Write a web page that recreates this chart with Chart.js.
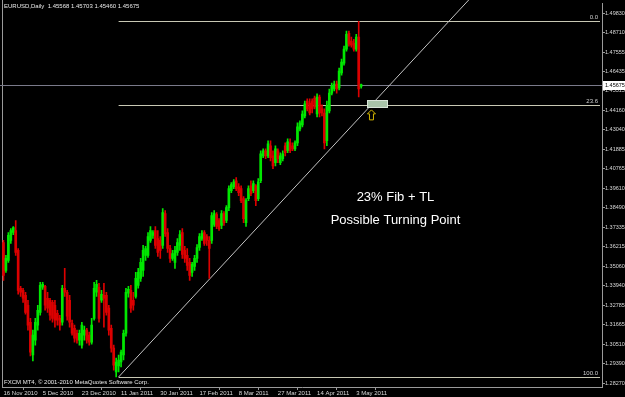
<!DOCTYPE html>
<html>
<head>
<meta charset="utf-8">
<script src="https://cdn.jsdelivr.net/npm/chart.js@4.4.1/dist/chart.umd.min.js"></script>
<style>
  html, body { margin: 0; padding: 0; background: #000; }
  canvas { display: block; }
</style>
</head>
<body>
<canvas id="eurusd" width="625" height="397"></canvas>
<script>
// EURUSD daily bars
const opens = [
  1.3647, 1.3484, 1.3543, 1.3659, 1.3705, 1.3717, 1.3601, 1.3380, 1.3368, 1.3339,
  1.3281, 1.3182, 1.2991, 1.3078, 1.3165, 1.3240, 1.3386, 1.3391, 1.3322, 1.3310,
  1.3298, 1.3281, 1.3234, 1.3205, 1.3182, 1.3380, 1.3357, 1.3310, 1.3176, 1.3147,
  1.3118, 1.3078, 1.3049, 1.3107, 1.3136, 1.3107, 1.3066, 1.3205, 1.3357, 1.3386,
  1.3310, 1.3339, 1.3339, 1.3264, 1.3147, 1.3031, 1.2892, 1.2927, 1.2950, 1.2991,
  1.3118, 1.3351, 1.3368, 1.3310, 1.3333, 1.3397, 1.3438, 1.3484, 1.3572, 1.3572,
  1.3659, 1.3688, 1.3717, 1.3670, 1.3659, 1.3630, 1.3816, 1.3705, 1.3612, 1.3554,
  1.3531, 1.3589, 1.3630, 1.3705, 1.3601, 1.3572, 1.3531, 1.3473, 1.3508, 1.3554,
  1.3618, 1.3670, 1.3705, 1.3682, 1.3659, 1.3659, 1.3752, 1.3810, 1.3775, 1.3746,
  1.3816, 1.3775, 1.3850, 1.3949, 1.3972, 1.4007, 1.3972, 1.3961, 1.3903, 1.3763,
  1.3903, 1.3978, 1.3949, 1.3978, 1.3903, 1.4007, 1.4152, 1.4182, 1.4152, 1.4211,
  1.4152, 1.4112, 1.4182, 1.4112, 1.4135, 1.4211, 1.4182, 1.4228, 1.4211, 1.4193,
  1.4228, 1.4309, 1.4333, 1.4385, 1.4472, 1.4460, 1.4472, 1.4489, 1.4396, 1.4495,
  1.4426, 1.4402, 1.4240, 1.4414, 1.4518, 1.4542, 1.4571, 1.4548, 1.4635, 1.4693,
  1.4774, 1.4867, 1.4821, 1.4809, 1.4774, 1.4844, 1.45568
];
const highs = [
  1.3659, 1.3572, 1.3705, 1.3728, 1.3740, 1.3775, 1.3612, 1.3391, 1.3380, 1.3357,
  1.3310, 1.3205, 1.3136, 1.3205, 1.3281, 1.3415, 1.3415, 1.3397, 1.3357, 1.3322,
  1.3310, 1.3310, 1.3252, 1.3223, 1.3397, 1.3496, 1.3368, 1.3339, 1.3194, 1.3165,
  1.3136, 1.3136, 1.3182, 1.3159, 1.3147, 1.3124, 1.3205, 1.3415, 1.3426, 1.3409,
  1.3368, 1.3409, 1.3357, 1.3281, 1.3165, 1.3049, 1.2973, 1.2991, 1.3020, 1.3136,
  1.3380, 1.3391, 1.3397, 1.3357, 1.3473, 1.3496, 1.3554, 1.3630, 1.3624, 1.3705,
  1.3740, 1.3717, 1.3740, 1.3717, 1.3682, 1.3845, 1.3833, 1.3728, 1.3630, 1.3601,
  1.3624, 1.3670, 1.3717, 1.3728, 1.3624, 1.3612, 1.3554, 1.3531, 1.3572, 1.3635,
  1.3699, 1.3717, 1.3717, 1.3693, 1.3682, 1.3821, 1.3833, 1.3821, 1.3786, 1.3833,
  1.3827, 1.3862, 1.3978, 1.3996, 1.4013, 1.4025, 1.3990, 1.3978, 1.3914, 1.3903,
  1.3978, 1.4007, 1.4007, 1.3984, 1.4019, 1.4182, 1.4193, 1.4193, 1.4240, 1.4240,
  1.4182, 1.4211, 1.4193, 1.4170, 1.4182, 1.4228, 1.4251, 1.4251, 1.4228, 1.4240,
  1.4344, 1.4356, 1.4414, 1.4472, 1.4484, 1.4484, 1.4484, 1.4501, 1.4513, 1.4507,
  1.4449, 1.4426, 1.4472, 1.4542, 1.4577, 1.4588, 1.4588, 1.4664, 1.4716, 1.4792,
  1.4879, 1.4879, 1.4844, 1.4832, 1.4861, 1.4937, 1.45703
];
const lows = [
  1.3426, 1.3473, 1.3531, 1.3641, 1.3693, 1.3572, 1.3345, 1.3333, 1.3298, 1.3229,
  1.3136, 1.2985, 1.2956, 1.3049, 1.3136, 1.3223, 1.3374, 1.3252, 1.3240, 1.3194,
  1.3182, 1.3153, 1.3165, 1.3136, 1.3165, 1.3333, 1.3194, 1.3153, 1.3107, 1.3066,
  1.3060, 1.3049, 1.3031, 1.3078, 1.3060, 1.3049, 1.3054, 1.3194, 1.3333, 1.3182,
  1.3298, 1.3153, 1.3223, 1.3107, 1.3008, 1.2903, 1.2863, 1.2892, 1.2921, 1.2962,
  1.3101, 1.3328, 1.3240, 1.3252, 1.3322, 1.3380, 1.3420, 1.3449, 1.3543, 1.3560,
  1.3647, 1.3670, 1.3612, 1.3566, 1.3554, 1.3612, 1.3682, 1.3589, 1.3531, 1.3543,
  1.3496, 1.3572, 1.3601, 1.3554, 1.3531, 1.3484, 1.3426, 1.3449, 1.3484, 1.3531,
  1.3601, 1.3659, 1.3630, 1.3630, 1.3438, 1.3641, 1.3740, 1.3728, 1.3717, 1.3728,
  1.3746, 1.3763, 1.3833, 1.3938, 1.3961, 1.3949, 1.3920, 1.3879, 1.3763, 1.3740,
  1.3891, 1.3920, 1.3938, 1.3862, 1.3891, 1.3996, 1.4141, 1.4135, 1.4141, 1.4123,
  1.4077, 1.4094, 1.4112, 1.4100, 1.4123, 1.4152, 1.4170, 1.4170, 1.4182, 1.4182,
  1.4211, 1.4298, 1.4321, 1.4373, 1.4414, 1.4391, 1.4402, 1.4426, 1.4379, 1.4379,
  1.4385, 1.4193, 1.4211, 1.4402, 1.4507, 1.4530, 1.4518, 1.4536, 1.4623, 1.4681,
  1.4763, 1.4792, 1.4786, 1.4763, 1.4763, 1.4495, 1.45460
];
const closes = [
  1.3455, 1.3554, 1.3688, 1.3717, 1.3734, 1.3589, 1.3368, 1.3357, 1.3322, 1.3240,
  1.3165, 1.3008, 1.3107, 1.3182, 1.3252, 1.3397, 1.3403, 1.3281, 1.3264, 1.3223,
  1.3205, 1.3194, 1.3194, 1.3165, 1.3380, 1.3357, 1.3217, 1.3182, 1.3118, 1.3089,
  1.3078, 1.3118, 1.3165, 1.3136, 1.3078, 1.3066, 1.3165, 1.3380, 1.3403, 1.3205,
  1.3345, 1.3322, 1.3240, 1.3136, 1.3031, 1.2932, 1.2950, 1.2962, 1.3008, 1.3118,
  1.3357, 1.3374, 1.3264, 1.3281, 1.3438, 1.3473, 1.3531, 1.3601, 1.3612, 1.3682,
  1.3717, 1.3705, 1.3630, 1.3589, 1.3601, 1.3821, 1.3699, 1.3612, 1.3554, 1.3583,
  1.3601, 1.3647, 1.3693, 1.3577, 1.3554, 1.3513, 1.3455, 1.3519, 1.3554, 1.3618,
  1.3682, 1.3699, 1.3641, 1.3659, 1.3612, 1.3804, 1.3816, 1.3740, 1.3728, 1.3816,
  1.3763, 1.3850, 1.3961, 1.3984, 1.4001, 1.3961, 1.3938, 1.3891, 1.3786, 1.3891,
  1.3961, 1.3932, 1.3990, 1.3891, 1.4001, 1.4164, 1.4182, 1.4152, 1.4222, 1.4141,
  1.4094, 1.4193, 1.4135, 1.4152, 1.4164, 1.4170, 1.4234, 1.4182, 1.4193, 1.4228,
  1.4321, 1.4344, 1.4396, 1.4455, 1.4426, 1.4402, 1.4426, 1.4437, 1.4495, 1.4402,
  1.4402, 1.4228, 1.4443, 1.4518, 1.4559, 1.4571, 1.4542, 1.4646, 1.4699, 1.4774,
  1.4861, 1.4803, 1.4797, 1.4774, 1.4844, 1.4542, 1.45675
];

const dateLabels = ['16 Nov 2010', '5 Dec 2010', '23 Dec 2010', '11 Jan 2011', '30 Jan 2011',
  '17 Feb 2011', '8 Mar 2011', '27 Mar 2011', '14 Apr 2011', '3 May 2011'];
const labelEvery = 16; // bars between date labels

const priceTicks = [1.49830, 1.48710, 1.47555, 1.46435, 1.45315, 1.44160, 1.43040, 1.41885,
  1.40765, 1.39610, 1.38490, 1.37335, 1.36215, 1.35060, 1.33940, 1.32785, 1.31665, 1.30510,
  1.29390, 1.28270];

// drawing objects on the chart
const fibLevels = [0.0, 23.6, 100.0];
const fibHighBar = 145, fibLowBar = 46;
const tlFrom = [47, 1.2863];
const tlTo = [131, 1.4155];
const zoneBars = [148.5, 156.6];
const zonePrices = [1.4476, 1.4435];
const arrowAt = [150.2, 1.4420];
const noteAt = [160, 1.3909, 1.3775];
const noteLines = ['23% Fib + TL', 'Possible Turning Point'];

const UP = '#00e800', DOWN = '#dc0000';
const FONT = '"Liberation Sans", Arial, sans-serif';

const barCols = closes.map((c, i) => c >= opens[i] ? UP : DOWN);
const last = closes.length - 1;

const overlay = {
  id: 'overlay',
  beforeDatasetsDraw(chart) {
    const { ctx, chartArea: a, scales: { x, y } } = chart;
    ctx.save();
    ctx.lineWidth = 1;
    // left frame
    ctx.strokeStyle = '#9a9a9a';
    ctx.beginPath(); ctx.moveTo(a.left + 0.5, 0); ctx.lineTo(a.left + 0.5, a.bottom); ctx.stroke();
    // bid line
    const yb = Math.round(y.getPixelForValue(closes[last])) + 0.5;
    ctx.strokeStyle = '#7a7a8a';
    ctx.beginPath(); ctx.moveTo(0, yb); ctx.lineTo(a.right, yb); ctx.stroke();
    // fibo
    const hi = highs[fibHighBar], lo = lows[fibLowBar];
    const fx = x.getPixelForValue(fibLowBar + 1);
    ctx.strokeStyle = '#c8c8b4';
    ctx.fillStyle = '#d0d0d0';
    ctx.font = '6px ' + FONT;
    ctx.textAlign = 'right';
    ctx.textBaseline = 'bottom';
    fibLevels.forEach(lv => {
      const py = Math.round(y.getPixelForValue(hi - (hi - lo) * lv / 100)) + 0.5;
      ctx.beginPath(); ctx.moveTo(fx, py); ctx.lineTo(a.right - 2, py); ctx.stroke();
      ctx.fillText(lv.toFixed(1), a.right - 4, py - 1);
    });
    // trend line, extended up
    const x1 = x.getPixelForValue(tlFrom[0]), y1 = y.getPixelForValue(tlFrom[1]);
    const x2 = x.getPixelForValue(tlTo[0]), y2 = y.getPixelForValue(tlTo[1]);
    const k = (x2 - x1) / (y2 - y1);
    ctx.strokeStyle = '#c4c4c4';
    ctx.beginPath(); ctx.moveTo(x1, y1); ctx.lineTo(x1 + (0 - y1) * k, 0); ctx.stroke();
    ctx.restore();
  },
  afterDatasetsDraw(chart) {
    const { ctx, chartArea: a, scales: { x, y } } = chart;
    ctx.save();
    // zone box
    const bx1 = x.getPixelForValue(zoneBars[0]), bx2 = x.getPixelForValue(zoneBars[1]);
    const by1 = y.getPixelForValue(zonePrices[0]), by2 = y.getPixelForValue(zonePrices[1]);
    ctx.fillStyle = '#a9c4a9';
    ctx.fillRect(bx1, by1, bx2 - bx1, by2 - by1);
    ctx.strokeStyle = '#d8e4d8';
    ctx.strokeRect(Math.round(bx1) + 0.5, Math.round(by1) + 0.5, Math.round(bx2 - bx1), Math.round(by2 - by1));
    // arrow
    const ax = x.getPixelForValue(arrowAt[0]), ay = y.getPixelForValue(arrowAt[1]);
    ctx.strokeStyle = '#d2b400';
    ctx.lineWidth = 1;
    ctx.beginPath();
    ctx.moveTo(ax, ay);
    ctx.lineTo(ax + 4, ay + 4);
    ctx.lineTo(ax + 2, ay + 4);
    ctx.lineTo(ax + 2, ay + 10);
    ctx.lineTo(ax - 2, ay + 10);
    ctx.lineTo(ax - 2, ay + 4);
    ctx.lineTo(ax - 4, ay + 4);
    ctx.closePath();
    ctx.stroke();
    // note text
    ctx.fillStyle = '#ffffff';
    ctx.font = '13px ' + FONT;
    ctx.textAlign = 'center';
    ctx.textBaseline = 'middle';
    const nx = x.getPixelForValue(noteAt[0]);
    ctx.fillText(noteLines[0], nx, y.getPixelForValue(noteAt[1]));
    ctx.fillText(noteLines[1], nx, y.getPixelForValue(noteAt[2]));
    // header and copyright
    ctx.font = '6px ' + FONT;
    ctx.textAlign = 'left';
    ctx.fillStyle = '#e8e8e8';
    const fmt = v => v.toFixed(5);
    ctx.fillText('EURUSD,Daily  ' + [opens[last], highs[last], lows[last], closes[last]].map(fmt).join(' '), 4, 6);
    ctx.fillText('FXCM MT4, \u00a9 2001-2010 MetaQuotes Software Corp.', 4, a.bottom - 5);
    // current price label on the scale
    const yb = Math.round(y.getPixelForValue(closes[last]));
    ctx.fillStyle = '#ffffff';
    ctx.fillRect(a.right + 1, yb - 4, chart.width - a.right - 1, 9);
    ctx.fillStyle = '#000000';
    ctx.font = '5.5px ' + FONT;
    ctx.fillText(fmt(closes[last]), a.right + 3, yb + 0.5);
    ctx.restore();
  }
};

new Chart(document.getElementById('eurusd'), {
  type: 'bar',
  data: {
    datasets: [
      {
        label: 'range',
        data: highs.map((h, i) => ({ x: i, y: [lows[i], h] })),
        backgroundColor: barCols,
        barThickness: 1,
        grouped: false,
        order: 2
      },
      {
        label: 'body',
        data: opens.map((o, i) => ({ x: i, y: [o, closes[i]] })),
        backgroundColor: barCols,
        barThickness: 2,
        minBarLength: 1,
        grouped: false,
        order: 1
      }
    ]
  },
  options: {
    responsive: false,
    animation: false,
    events: [],
    layout: { padding: { left: 2, top: 2, right: 0, bottom: 0 } },
    scales: {
      x: {
        type: 'linear',
        offset: false,
        min: -0.6,
        max: 244.3,
        afterBuildTicks: s => { s.ticks = dateLabels.map((_, k) => ({ value: k * labelEvery })); },
        afterFit: s => { s.height = 10; },
        ticks: {
          callback: (v, i) => dateLabels[i],
          align: 'start',
          autoSkip: false,
          maxRotation: 0,
          minRotation: 0,
          padding: 0,
          color: '#d8d8d8',
          font: { family: FONT, size: 6 }
        },
        grid: { drawOnChartArea: false, tickLength: 3, color: '#9a9a9a' },
        border: { color: '#9a9a9a' }
      },
      y: {
        position: 'right',
        min: 1.28045,
        max: 1.50414,
        afterBuildTicks: s => { s.ticks = priceTicks.map(v => ({ value: v })); },
        afterFit: s => { s.width = 23; },
        ticks: {
          callback: v => v.toFixed(5),
          padding: 0,
          color: '#d8d8d8',
          font: { family: FONT, size: 5.5 }
        },
        grid: { drawOnChartArea: false, tickLength: 3, color: '#9a9a9a' },
        border: { color: '#9a9a9a' }
      }
    },
    plugins: {
      legend: { display: false },
      tooltip: { enabled: false },
      title: { display: false }
    }
  },
  plugins: [overlay]
});
</script>
</body>
</html>
